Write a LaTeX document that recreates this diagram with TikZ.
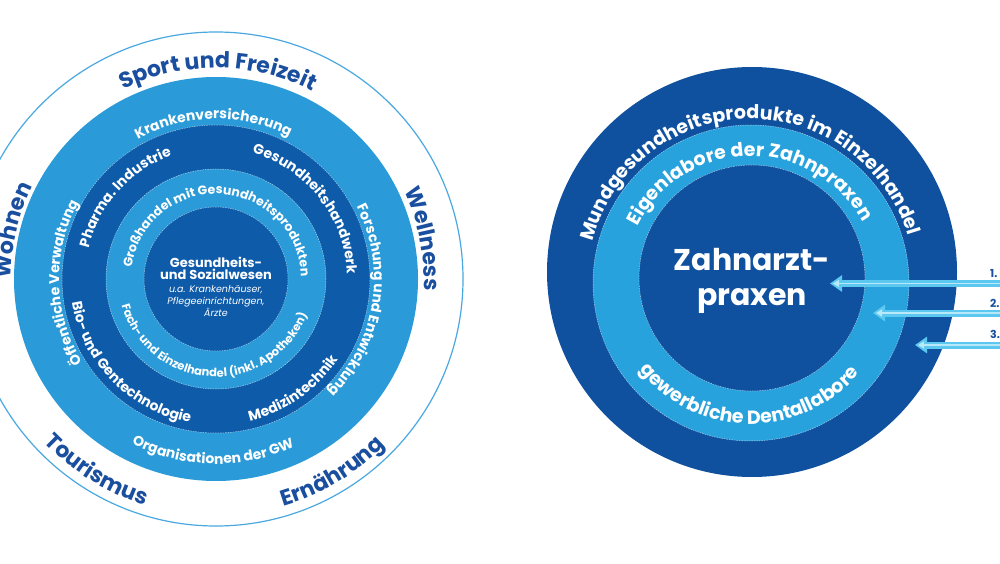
\documentclass[tikz,border=0pt]{standalone}
\usepackage{fontspec}
\setmainfont{Poppins}
\usetikzlibrary{decorations.text,arrows.meta,positioning}

\definecolor{ringlight}{HTML}{2A9BD8}
\definecolor{ringdark}{HTML}{0E5BAA}
\definecolor{rimblue}{HTML}{4AA8E0}
\definecolor{labelblue}{HTML}{1A4E9E}
\definecolor{zahndark}{HTML}{0F519F}
\definecolor{zahnlight}{HTML}{28A2DD}
\definecolor{arrowcyan}{HTML}{5CC8F0}
\definecolor{arrowpale}{HTML}{B8E9FA}

\newcommand{\fouter}{\color{labelblue}\bfseries\fontsize{22}{22}\selectfont}
\newcommand{\fring}{\color{white}\bfseries\fontsize{14}{14}\selectfont}
\newcommand{\finner}{\color{white}\bfseries\fontsize{12.5}{12.5}\selectfont}
\newcommand{\fsmall}{\color{white}\bfseries\fontsize{11.5}{11.5}\selectfont}
\newcommand{\fzahn}{\color{white}\bfseries\fontsize{19}{19}\selectfont}
\newcommand{\fcore}{\bfseries\fontsize{13}{16}\selectfont}
\newcommand{\fnote}{\itshape\fontsize{9.5}{13}\selectfont}

% text on a circle, reading clockwise (letters outward) / counterclockwise (letters inward)
\newcommand{\toptext}[6]{%
  \path[decorate,decoration={text along path,text align=center,text={|#5|#6}}]
    ([shift={({#2+#4}:#3pt)}]#1) arc[start angle={#2+#4}, end angle={#2-#4}, radius=#3pt];}
\newcommand{\bottext}[6]{%
  \path[decorate,decoration={text along path,text align=center,text={|#5|#6}}]
    ([shift={({#2-#4}:#3pt)}]#1) arc[start angle={#2-#4}, end angle={#2+#4}, radius=#3pt];}

\tikzset{
  rim/.style={draw=rimblue, line width=1.2pt},
  seam/.style={draw=white, line width=0.5pt, opacity=0.6, dash pattern=on 1.5pt off 1pt},
  feed/.style={line width=7pt, draw=arrowcyan, -{Triangle[length=12pt,width=16pt]},
    postaction={draw=arrowpale, line width=1.8pt, -{Triangle[length=6pt,width=7pt]}, shorten >=3pt}},
  numlbl/.style={text=labelblue, font=\bfseries\fontsize{11}{11}\selectfont, inner sep=0pt}
}

\begin{document}
\begin{tikzpicture}[x=1pt,y=1pt]
  \clip (0,0) rectangle (1000,563);

  % left: Gesundheitswirtschaft
  \coordinate (L) at (216,284);
  \fill[white] (L) circle[radius=247pt];
  \draw[rim] (L) circle[radius=247pt];
  \fill[ringlight] (L) circle[radius=202pt];
  \fill[ringdark] (L) circle[radius=154pt];
  \fill[ringlight] (L) circle[radius=110pt];
  \fill[ringdark] (L) circle[radius=72pt];
  \foreach \r in {154,110,72}
    \draw[seam] (L) circle[radius=\r pt];

  \toptext{L}{89.5}{211}{90}{\fouter}{Sport und Freizeit}
  \toptext{L}{11}{208}{90}{\fouter}{Wellness}
  \toptext{L}{166.5}{205}{90}{\fouter}{Wohnen}
  \bottext{L}{238}{237}{90}{\fouter}{Tourismus}
  \bottext{L}{301}{237}{90}{\fouter}{Ernährung}

  \toptext{L}{91}{160}{90}{\fring}{Krankenversicherung}
  \toptext{L}{181.5}{157}{90}{\fring}{Öffentliche Verwaltung}
  \toptext{L}{-9}{158}{90}{\fring}{Forschung und Entwicklung}
  \bottext{L}{269}{185}{90}{\fring}{Organisationen der GW}

  \toptext{L}{138}{131}{90}{\fring}{Pharma. Industrie}
  \toptext{L}{38}{131}{90}{\fring}{Gesundheitshandwerk}
  \bottext{L}{224.6}{146}{90}{\fring}{Bio- und Gentechnologie}
  \bottext{L}{305}{146}{90}{\fring}{Medizintechnik}

  \toptext{L}{87}{85}{150}{\finner}{Großhandel mit Gesundheitsprodukten}
  \bottext{L}{267}{98}{150}{\fsmall}{Fach- und Einzelhandel (inkl. Apotheken)}

  \node[align=center, text=white] (core) at (216,276)
    {\fcore Gesundheits-\\\fcore und Sozialwesen\\[1pt]
     \fnote u.a. Krankenhäuser,\\\fnote Pflegeeinrichtungen,\\\fnote Ärzte};

  % right: Zahnmedizin
  \coordinate (R) at (752,291);
  \coordinate (Rm) at (751,280);
  \coordinate (Rc) at (752,285);
  \fill[zahndark] (R) circle[radius=205pt];
  \fill[zahnlight] (Rm) circle[radius=158pt];
  \fill[zahndark] (Rc) circle[radius=113pt];
  \draw[seam] (Rm) circle[radius=158pt];
  \draw[seam] (Rc) circle[radius=113pt];

  \toptext{Rm}{91}{164}{120}{\fzahn}{Mundgesundheitsprodukte im Einzelhandel}
  \toptext{Rm}{91}{127}{120}{\fzahn}{Eigenlabore der Zahnpraxen}
  \bottext{Rm}{269}{141}{110}{\fzahn}{gewerbliche Dentallabore}

  \node[align=center, text=white, font=\bfseries\fontsize{30}{35}\selectfont] (zahn) at (752,282)
    {Zahnarzt-\\praxen};

  % arrows from the right
  \coordinate (s1) at (1010,279.5);
  \coordinate (t1) at (830,279.5);
  \coordinate (s2) at (1010,250);
  \coordinate (t2) at (873,250);
  \coordinate (s3) at (1010,218);
  \coordinate (t3) at (915,218);
  \draw[feed] (s1) -- (t1);
  \draw[feed] (s2) -- (t2);
  \draw[feed] (s3) -- (t3);
  \node[numlbl, anchor=south west] (n1) at (990,285) {1.};
  \node[numlbl, anchor=south west] (n2) at (990,255) {2.};
  \node[numlbl, anchor=south west] (n3) at (990,224) {3.};
\end{tikzpicture}
\end{document}
